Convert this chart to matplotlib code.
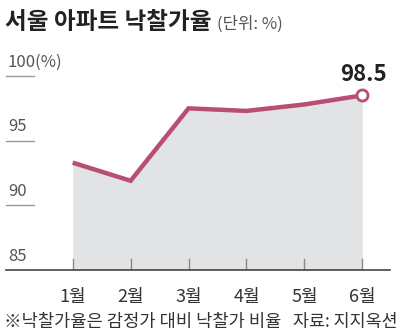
import matplotlib.pyplot as plt

plt.rcParams['font.family'] = ['Noto Sans CJK KR', 'DejaVu Sans']

months = ['1월', '2월', '3월', '4월', '5월', '6월']
rates = [93.3, 91.9, 97.5, 97.3, 97.8, 98.5]
y_ticks = [85, 90, 95, 100]
y_labels = ['85', '90', '95', '100(%)']

W, H = 403, 335
LINE = '#b84d75'
FILL = '#e2e3e5'
GREY = '#555555'


def main():
    fig = plt.figure(figsize=(W / 100, H / 100), dpi=100)
    # axes placed in pixel terms: x from 6 to 390, y from 270 (85) up to 76 (100)
    ax = fig.add_axes([6 / W, (H - 270) / H, 384 / W, 194 / H])
    xs = list(range(1, len(months) + 1))

    ax.fill_between(xs, 85, rates, color=FILL, lw=0, zorder=1)
    ax.plot(xs, rates, color=LINE, lw=3.2, solid_capstyle='butt',
            solid_joinstyle='miter', zorder=3, clip_on=False)
    ax.plot(xs[-1], rates[-1], 'o', ms=8, mfc='white', mec=LINE, mew=2,
            zorder=4, clip_on=False)
    ax.annotate(f'{rates[-1]}', (xs[-1], rates[-1]), xytext=(1, 7),
                textcoords='offset points', ha='center', va='bottom',
                fontsize=16, fontweight='bold', color='#222222')

    ax.set_xlim(1 - 66.7 / 57.9, 6 + 27.7 / 57.9)
    ax.set_ylim(85, 100)
    for s in ax.spines.values():
        s.set_visible(False)
    ax.set_xticks([])
    ax.set_yticks([])

    # baseline and month ticks
    ax.axhline(85, color='#444444', lw=1.2, zorder=5, clip_on=False)
    for i, x in enumerate(xs):
        ax.plot([x, x], [85, 85.85], color='#888888', lw=1, zorder=2)
        ax.text(x, 83.6, months[i], ha='center', va='top',
                fontsize=13, color='#333333')

    # short grid stubs with labels sitting on top
    trans = ax.get_yaxis_transform()
    for v, lab in zip(y_ticks, y_labels):
        if v != 85:
            ax.plot([0, 0.072], [v, v], color='#999999', lw=1, transform=trans,
                    clip_on=False)
        ax.text(0.005, v + 0.4, lab, transform=trans, ha='left', va='bottom',
                fontsize=12, color=GREY)

    fig.text(5 / W, 1 - 22 / H, '서울 아파트 낙찰가율', fontsize=17,
             fontweight='bold', color='#222222', va='center', ha='left')
    fig.text(217 / W, 1 - 24 / H, '(단위: %)', fontsize=12,
             color=GREY, va='center', ha='left')
    fig.text(4 / W, 1 - 322 / H, '※낙찰가율은 감정가 대비 낙찰가 비율',
             fontsize=12.7, color='#333333', va='center', ha='left')
    fig.text(398 / W, 1 - 322 / H, '자료: 지지옥션', fontsize=12.5,
             color='#333333', va='center', ha='right')

    fig.savefig('out.png', dpi=100, facecolor='white')


if __name__ == "__main__":
    main()
